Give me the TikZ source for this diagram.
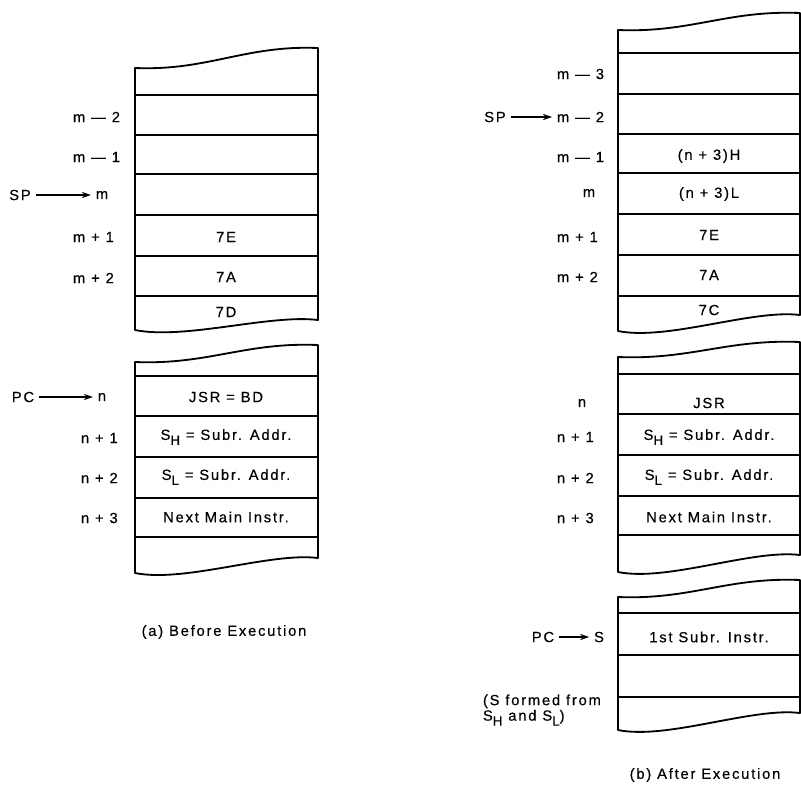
\documentclass[tikz,border=0pt]{standalone}
\usepackage{fontspec}
\setmainfont{Liberation Sans}[LetterSpace=12, FakeBold=0.4]
\usetikzlibrary{arrows.meta}

\newcommand{\lowsub}[1]{\raisebox{-3.5pt}{\fontsize{9.5}{10}\selectfont #1}}
% torn memory strip: left x, right x, top-left y, top-right y, bottom-left y, bottom-right y
\newcommand{\tornblock}[6]{%
  \draw[blockline] (#1,#3)
    .. controls ({#1+0.4*(#2-#1)},{#3+3}) and ({#1+0.6*(#2-#1)},{#4-3}) .. (#2,#4)
    -- (#2,#6)
    .. controls ({#2-0.26*(#2-#1)},{#6-6}) and ({#1+0.27*(#2-#1)},{#5+10}) .. (#1,#5)
    -- cycle;}

\tikzset{
  blockline/.style={line width=1.3pt, line join=round},
  rowline/.style={line width=1.1pt},
  addr/.style={anchor=west},
  ptr/.style={->, line width=0.9pt}
}

\begin{document}
\begin{tikzpicture}[x=0.025cm, y=-0.025cm, >={Stealth[length=6.5pt, width=4.5pt]},
                    font=\fontsize{10.5}{12}\selectfont]
    \useasboundingbox (0,0) rectangle (801,798);

    % (a) before execution: stack
    \begin{scope}
        \tornblock{135}{318}{68}{48}{330}{320}
        \draw[rowline] (135,95) -- (318,95) (135,135) -- (318,135) (135,174) -- (318,174)
            (135,215) -- (318,215) (135,256) -- (318,256) (135,296) -- (318,296);

        \node[addr] (am2) at (68,117) {m — 2};
        \node[addr] (am1) at (68,157) {m — 1};
        \node (asp) at (20,195) {SP};
        \node (am) at (102,195) {m};
        \draw[ptr] (asp) -- (am);
        \node[addr] (amp1) at (68,237) {m + 1};
        \node[addr] (amp2) at (68,278) {m + 2};

        \node (a7E) at (226,237) {7E};
        \node (a7A) at (226,277) {7A};
        \node (a7D) at (226,312) {7D};
    \end{scope}

    % (a) before execution: program
    \begin{scope}
        \tornblock{135}{318}{362}{345}{573}{558}
        \draw[rowline] (135,376) -- (318,376) (135,416) -- (318,416) (135,457) -- (318,457)
            (135,498) -- (318,498) (135,537) -- (318,537);

        \node (apc) at (23,397) {PC};
        \node (an) at (102,397) {n};
        \draw[ptr] (apc) -- (an);
        \node[addr] (anp1) at (76,438) {n + 1};
        \node[addr] (anp2) at (76,478) {n + 2};
        \node[addr] (anp3) at (76,518) {n + 3};

        \node (ajsr) at (226,397) {JSR = BD};
        \node (ash) at (226,437) {S\lowsub{H} = Subr. Addr.};
        \node (asl) at (226,477) {S\lowsub{L} = Subr. Addr.};
        \node (anext) at (226,517) {Next Main Instr.};

        \node (capa) at (224,632) {(a) Before Execution};
    \end{scope}

    % (b) after execution: stack
    \begin{scope}
        \tornblock{618}{800}{30}{13}{331}{315}
        \draw[rowline] (618,53) -- (800,53) (618,94) -- (800,94) (618,134) -- (800,134)
            (618,173) -- (800,173) (618,214) -- (800,214) (618,255) -- (800,255)
            (618,296) -- (800,296);

        \node[addr] (bm3) at (552,74) {m — 3};
        \node (bsp) at (495,117) {SP};
        \node[addr] (bm2) at (552,117) {m — 2};
        \draw[ptr] (bsp) -- (bm2);
        \node[addr] (bm1) at (552,157) {m — 1};
        \node (bm) at (589,193) {m};
        \node[addr] (bmp1) at (552,237) {m + 1};
        \node[addr] (bmp2) at (552,277) {m + 2};

        \node (bhi) at (709,156) {(n + 3)H};
        \node (blo) at (709,194) {(n + 3)L};
        \node (b7E) at (709,235) {7E};
        \node (b7A) at (709,275) {7A};
        \node (b7C) at (709,310) {7C};
    \end{scope}

    % (b) after execution: program
    \begin{scope}
        \tornblock{618}{800}{357}{342}{572}{555}
        \draw[rowline] (618,374) -- (800,374) (618,414) -- (800,414) (618,455) -- (800,455)
            (618,496) -- (800,496) (618,535) -- (800,535);

        \node (bn) at (582,403) {n};
        \node[addr] (bnp1) at (552,437) {n + 1};
        \node[addr] (bnp2) at (552,478) {n + 2};
        \node[addr] (bnp3) at (552,518) {n + 3};

        \node (bjsr) at (709,403) {JSR};
        \node (bsh) at (709,437) {S\lowsub{H} = Subr. Addr.};
        \node (bsl) at (709,477) {S\lowsub{L} = Subr. Addr.};
        \node (bnext) at (709,517) {Next Main Instr.};
    \end{scope}

    % (b) after execution: subroutine
    \begin{scope}
        \tornblock{618}{800}{597}{580}{730}{713}
        \draw[rowline] (618,613) -- (800,613) (618,655) -- (800,655) (618,697) -- (800,697);

        \node (bpc) at (543,637) {PC};
        \node (bs) at (599,637) {S};
        \draw[ptr] (bpc) -- (bs);
        \node (bsub) at (709,637) {1st Subr. Instr.};

        \node[addr, align=left] (bnote) at (478,710) {(S formed from\\[-1pt]S\lowsub{H} and S\lowsub{L})};

        \node (capb) at (705,775) {(b) After Execution};
    \end{scope}
\end{tikzpicture}
\end{document}
